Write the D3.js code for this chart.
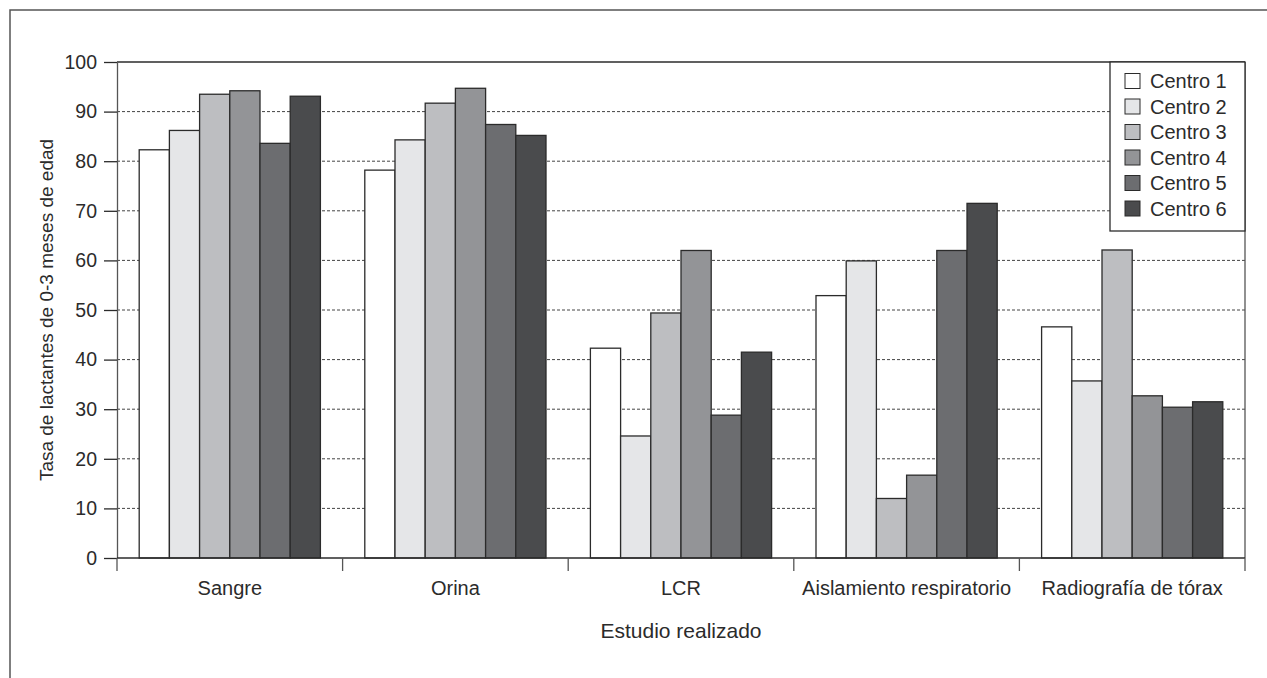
<!DOCTYPE html>
<html>
<head>
<meta charset="utf-8">
<script src="https://cdn.jsdelivr.net/npm/d3@7"></script>
<style>
  html, body { margin: 0; padding: 0; background: #fff; }
  svg { display: block; }
</style>
</head>
<body>
<div id="chart"></div>
<script>
// data
var categories = ['Sangre', 'Orina', 'LCR', 'Aislamiento respiratorio', 'Radiografía de tórax'];
var seriesNames = ['Centro 1', 'Centro 2', 'Centro 3', 'Centro 4', 'Centro 5', 'Centro 6'];
var centro1 = [82.3, 78.2, 42.3, 52.9, 46.6];
var centro2 = [86.2, 84.3, 24.6, 59.9, 35.7];
var centro3 = [93.5, 91.7, 49.4, 12.0, 62.1];
var centro4 = [94.2, 94.7, 62.0, 16.7, 32.7];
var centro5 = [83.6, 87.4, 28.8, 62.0, 30.4];
var centro6 = [93.1, 85.2, 41.5, 71.5, 31.5];
var yTicks = [0, 10, 20, 30, 40, 50, 60, 70, 80, 90, 100];

var SERIES = [centro1, centro2, centro3, centro4, centro5, centro6];
var FILLS = ['#ffffff', '#e5e6e8', '#bdbec1', '#939497', '#6c6d70', '#4a4b4d'];
var INK = '#2b2b2b';
var FONT = 'Liberation Sans, Arial, Helvetica, sans-serif';
var FS = '20px';

var W = 1267, H = 678;
var L = 117, R = 1245, T = 62, B = 558;

var svg = d3.select('#chart').append('svg')
  .attr('width', W)
  .attr('height', H);

// outer frame (only top and left visible in the picture)
svg.append('rect')
  .attr('x', 10).attr('y', 10)
  .attr('width', 1400).attr('height', 1000)
  .attr('fill', 'none')
  .attr('stroke', '#555')
  .attr('stroke-width', 1.5);

var x0 = d3.scaleBand().domain(categories).range([L, R]).paddingInner(0).paddingOuter(0);
var x1 = d3.scaleBand().domain(d3.range(SERIES.length)).range([0, x0.bandwidth()])
  .paddingOuter(0.735).paddingInner(0);
var y = d3.scaleLinear().domain([0, 100]).range([B, T]);

// ── Grid lines ────────────────────────────────────────
svg.append('g')
  .selectAll('line')
  .data(yTicks.filter(function(t) { return t > 0 && t < 100; }))
  .enter().append('line')
  .attr('x1', L).attr('x2', R)
  .attr('y1', function(d) { return y(d); })
  .attr('y2', function(d) { return y(d); })
  .attr('stroke', '#444')
  .attr('stroke-width', 1)
  .attr('stroke-dasharray', '3,2');

// ── Bars ──────────────────────────────────────────────
var rows = categories.map(function(c, i) {
  return { cat: c, vals: SERIES.map(function(s) { return s[i]; }) };
});

var groups = svg.append('g').selectAll('g')
  .data(rows)
  .enter().append('g')
  .attr('transform', function(d) { return 'translate(' + x0(d.cat) + ',0)'; });

groups.selectAll('rect')
  .data(function(d) { return d.vals.map(function(v, k) { return { k: k, v: v }; }); })
  .enter().append('rect')
  .attr('x', function(d) { return x1(d.k); })
  .attr('y', function(d) { return y(d.v); })
  .attr('width', x1.bandwidth())
  .attr('height', function(d) { return B - y(d.v); })
  .attr('fill', function(d) { return FILLS[d.k]; })
  .attr('stroke', INK)
  .attr('stroke-width', 1.3);

// ── Frame of plot ─────────────────────────────────────
svg.append('line').attr('x1', L).attr('x2', R).attr('y1', T).attr('y2', T)
  .attr('stroke', INK).attr('stroke-width', 1.3);
svg.append('line').attr('x1', R).attr('x2', R).attr('y1', T).attr('y2', B)
  .attr('stroke', '#555').attr('stroke-width', 1.3);

// ── Y axis ────────────────────────────────────────────
var yAxis = svg.append('g')
  .attr('transform', 'translate(' + L + ',0)')
  .call(d3.axisLeft(y).tickValues(yTicks).tickSize(13).tickPadding(7).tickSizeOuter(0));
yAxis.select('.domain').attr('stroke', '#555').attr('stroke-width', 1.3);
yAxis.selectAll('.tick line').attr('stroke', INK).attr('stroke-width', 1.3);
yAxis.selectAll('.tick text')
  .attr('fill', INK)
  .attr('font-family', FONT)
  .attr('font-size', '19.5px');

// ── X axis ────────────────────────────────────────────
svg.append('line').attr('x1', L).attr('x2', R).attr('y1', B).attr('y2', B)
  .attr('stroke', INK).attr('stroke-width', 1.3);

var bounds = categories.map(function(c) { return x0(c); }).concat([R]);
svg.append('g').selectAll('line')
  .data(bounds)
  .enter().append('line')
  .attr('x1', function(d) { return d; })
  .attr('x2', function(d) { return d; })
  .attr('y1', B).attr('y2', B + 13)
  .attr('stroke', '#555')
  .attr('stroke-width', 1.3);

svg.append('g').selectAll('text')
  .data(categories)
  .enter().append('text')
  .attr('x', function(d) { return x0(d) + x0.bandwidth() / 2; })
  .attr('y', 595)
  .attr('text-anchor', 'middle')
  .attr('fill', INK)
  .attr('font-family', FONT)
  .attr('font-size', FS)
  .text(function(d) { return d; });

// ── Axis titles ───────────────────────────────────────
svg.append('text')
  .attr('x', (L + R) / 2)
  .attr('y', 638)
  .attr('text-anchor', 'middle')
  .attr('fill', INK)
  .attr('font-family', FONT)
  .attr('font-size', '21px')
  .text('Estudio realizado');

svg.append('text')
  .attr('transform', 'translate(53,' + ((T + B) / 2) + ') rotate(-90)')
  .attr('text-anchor', 'middle')
  .attr('fill', INK)
  .attr('font-family', FONT)
  .attr('font-size', '19px')
  .text('Tasa de lactantes de 0-3 meses de edad');

// ── Legend ────────────────────────────────────────────
var lg = svg.append('g');
lg.append('rect')
  .attr('x', 1110).attr('y', T)
  .attr('width', R - 1110).attr('height', 169)
  .attr('fill', '#fff')
  .attr('stroke', INK)
  .attr('stroke-width', 1.3);

var items = lg.selectAll('g.item')
  .data(seriesNames)
  .enter().append('g')
  .attr('class', 'item')
  .attr('transform', function(d, i) { return 'translate(1125,' + (81 + i * 25.5) + ')'; });

items.append('rect')
  .attr('x', 0).attr('y', -7.5)
  .attr('width', 15).attr('height', 15)
  .attr('fill', function(d, i) { return FILLS[i]; })
  .attr('stroke', INK)
  .attr('stroke-width', 1);

items.append('text')
  .attr('x', 25)
  .attr('y', 0)
  .attr('dy', '0.35em')
  .attr('fill', INK)
  .attr('font-family', FONT)
  .attr('font-size', FS)
  .text(function(d) { return d; });
</script>
</body>
</html>
